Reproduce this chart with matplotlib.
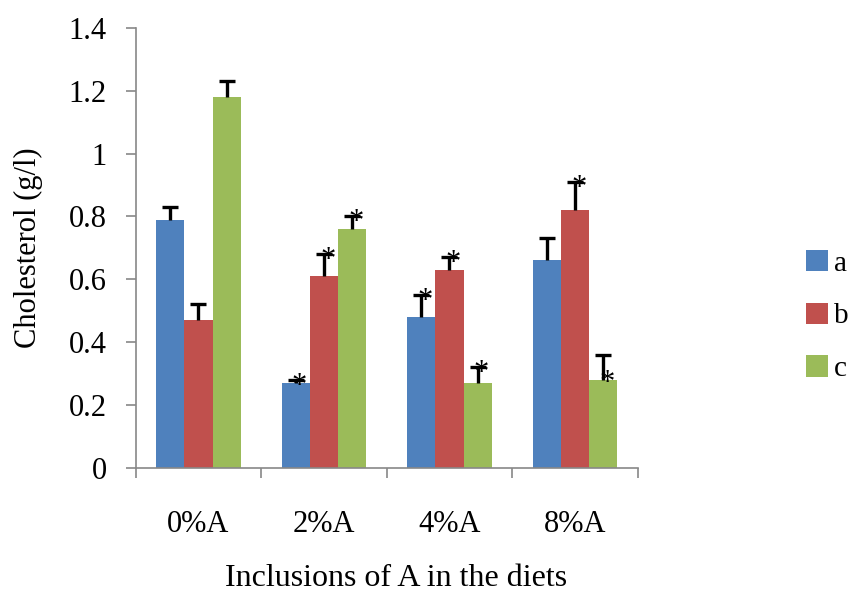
import matplotlib
matplotlib.use("Agg")
import matplotlib.pyplot as plt
import numpy as np
from matplotlib.patches import Patch
from matplotlib.ticker import FixedLocator, FuncFormatter

plt.rcParams['font.family'] = ['Liberation Serif', 'DejaVu Serif']

categories = ["0%A", "2%A", "4%A", "8%A"]
series = ["a", "b", "c"]
a_vals = [0.79, 0.27, 0.48, 0.66]
b_vals = [0.47, 0.61, 0.63, 0.82]
c_vals = [1.18, 0.76, 0.27, 0.28]
a_err = [0.04, 0.01, 0.07, 0.07]
b_err = [0.05, 0.07, 0.04, 0.09]
c_err = [0.05, 0.04, 0.05, 0.08]
# significance markers (True = asterisk)
a_sig = [False, True, True, False]
b_sig = [False, True, True, True]
c_sig = [False, True, True, True]
colors = ["#4F81BD", "#C0504D", "#9BBB59"]

fig = plt.figure(figsize=(8.48, 5.93), dpi=100)
ax = fig.add_axes([0.160, 0.211, 0.592, 0.742])

x = np.arange(len(categories))
w = 0.225
vals = [a_vals, b_vals, c_vals]
errs = [a_err, b_err, c_err]
sigs = [a_sig, b_sig, c_sig]
for i in range(3):
    pos = x + (i - 1) * w
    v = np.array(vals[i])
    e = np.array(errs[i])
    ax.bar(pos, v, w, color=colors[i], edgecolor='none', zorder=2)
    ax.vlines(pos, v, v + e, color='black', linewidth=2.4, zorder=3)
    ax.plot(pos, v + e, linestyle='none', marker='_', markersize=11,
            markeredgewidth=2.4, color='black', zorder=3)
    for j in range(4):
        if sigs[i][j]:
            ytop = v[j] + e[j]
            if i == 2 and j == 3:
                ytop = v[j] + 0.01
            ax.text(pos[j] + 0.03, ytop - 0.02, "*", ha='center', va='center',
                    fontsize=22, zorder=4)

ax.set_xlim(-0.5, 3.5)
ax.set_ylim(0, 1.4)
ax.set_yticks(np.arange(0, 1.41, 0.2))
ax.yaxis.set_major_formatter(FuncFormatter(lambda v, p: f"{v:g}"))
ax.set_xticks(x)
ax.set_xticklabels(categories)
ax.xaxis.set_minor_locator(FixedLocator([-0.5, 0.5, 1.5, 2.5, 3.5]))
ax.tick_params(axis='x', which='major', length=0, pad=30, labelsize=22)
ax.tick_params(axis='x', which='minor', length=7, width=1.2, color='#888888')
ax.tick_params(axis='y', length=7, width=1.2, color='#888888', labelsize=22, pad=14)
for s in ['top', 'right']:
    ax.spines[s].set_visible(False)
for s in ['left', 'bottom']:
    ax.spines[s].set_color('#888888')
    ax.spines[s].set_linewidth(1.2)

ax.set_ylabel("Cholesterol (g/l)", fontsize=22, labelpad=18)
fig.text(0.467, 0.024, "Inclusions of A in the diets", ha='center', va='center', fontsize=23)

handles = [Patch(facecolor=c, edgecolor='none') for c in colors]
fig.legend(handles, series, loc='center left', bbox_to_anchor=(0.951, 0.467),
           frameon=False, fontsize=21, handlelength=0.75, handleheight=0.75,
           handletextpad=0.2, labelspacing=0.88, borderaxespad=0, borderpad=0)

fig.savefig("out.png", dpi=100)
